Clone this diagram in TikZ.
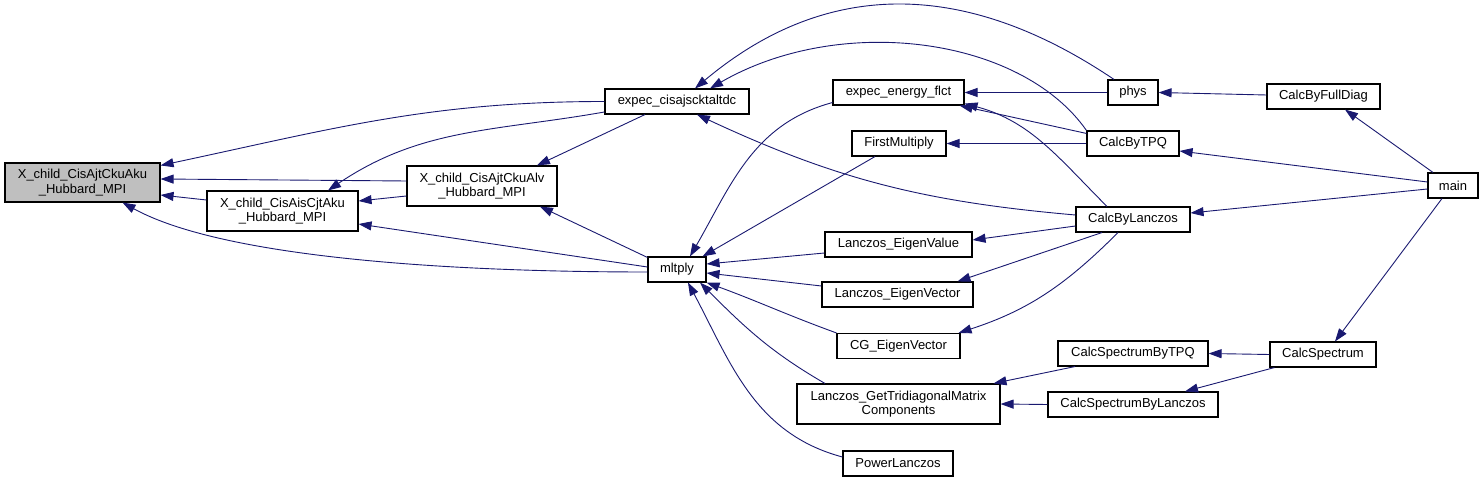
\documentclass[tikz,border=0pt]{standalone}
\usepackage{fontspec}
\setmainfont{Liberation Sans}
\usepackage{xcolor}
\usepackage{tikz}
\definecolor{edgeblue}{HTML}{191970}
\definecolor{curgray}{HTML}{BFBFBF}
\usetikzlibrary{arrows.meta,positioning}

\begin{document}
\begin{tikzpicture}[
    x=1pt, y=1pt,
    fn/.style={rectangle, draw=black, line width=1.1pt, fill=white, inner sep=0pt, minimum height=25pt, align=center, font=\fontsize{13}{14.5}\selectfont},
    cur/.style={fn, fill=curgray},
    call/.style={-{Triangle[length=13pt,width=9pt]}, draw=edgeblue, line width=0.9pt},
]
\useasboundingbox (0,0) rectangle (1484,482);

% Current function
\node (aku) [cur, minimum width=155pt, minimum height=39pt] at (82.5,299.5) {X\_child\_CisAjtCkuAku\\\_Hubbard\_MPI};

% Callers, left part
\node (aiscjt) [fn, minimum width=151pt, minimum height=40pt] at (282.5,271) {X\_child\_CisAisCjtAku\\\_Hubbard\_MPI};
\node (alv) [fn, minimum width=150pt, minimum height=40pt] at (482,296) {X\_child\_CisAjtCkuAlv\\\_Hubbard\_MPI};
\node (expec) [fn, minimum width=144pt] at (677,380.5) {expec\_cisajscktaltdc};
\node (mltply) [fn, minimum width=58pt] at (677,212.5) {mltply};

% Callers of mltply
\node (energy) [fn, minimum width=131pt] at (898.5,389.5) {expec\_energy\_flct};
\node (first) [fn, minimum width=94pt] at (899,338.5) {FirstMultiply};
\node (eigval) [fn, minimum width=147pt] at (898.5,237.5) {Lanczos\_EigenValue};
\node (eigvec) [fn, minimum width=151pt] at (897.5,187.5) {Lanczos\_EigenVector};
\node (cgvec) [fn, minimum width=123pt] at (898.5,136) {CG\_EigenVector};
\node (tridiag) [fn, minimum width=203pt, minimum height=40pt] at (898.5,78) {Lanczos\_GetTridiagonalMatrix\\Components};
\node (power) [fn, minimum width=110pt] at (898,18.5) {PowerLanczos};

% Drivers
\node (phys) [fn, minimum width=50pt] at (1133,389.5) {phys};
\node (calctpq) [fn, minimum width=92pt] at (1133,338.5) {CalcByTPQ};
\node (calclan) [fn, minimum width=114pt] at (1133,262.5) {CalcByLanczos};
\node (spectpq) [fn, minimum width=150pt] at (1133,128.5) {CalcSpectrumByTPQ};
\node (speclan) [fn, minimum width=170pt] at (1133,77.5) {CalcSpectrumByLanczos};
\node (fulldiag) [fn, minimum width=113pt] at (1323.5,385.5) {CalcByFullDiag};
\node (spec) [fn, minimum width=106pt] at (1323,127.5) {CalcSpectrum};
\node (main) [fn, minimum width=50pt] at (1453,296.5) {main};

% Arrows into the current function
\draw[call] (expec.west) to[out=180,in=12] ([yshift=-3pt]aku.north east);
\draw[call] ([yshift=5pt]alv.west) -- ([yshift=3.5pt]aku.east);
\draw[call] ([yshift=11pt]aiscjt.west) -- ([yshift=-12.5pt]aku.east);
\draw[call] ([yshift=-2.5pt]mltply.west) .. controls +(-200,0) and +(100,-55) .. ([xshift=40pt]aku.south);

\draw[call] ([yshift=-10.5pt]expec.west) to[out=190,in=34] ([xshift=45.5pt]aiscjt.north);
\draw[call] ([yshift=-10pt]alv.west) -- ([yshift=10pt]aiscjt.east);
\draw[call] ([yshift=2.5pt]mltply.west) -- ([yshift=-13pt]aiscjt.east);

\draw[call] ([xshift=-32pt]expec.south) -- ([xshift=55pt]alv.north);
\draw[call] ([yshift=-1pt]mltply.north west) -- ([xshift=58pt]alv.south);

% Arrows into expec
\draw[call] ([xshift=-19pt]phys.north) .. controls +(146:181) and +(40:170) .. ([xshift=18pt]expec.north);
\draw[call] (calctpq.north west) .. controls +(125:115) and +(30:150) .. ([xshift=33pt]expec.north);
\draw[call] ([yshift=4.5pt]calclan.west) to[out=175,in=-25] ([xshift=20pt]expec.south);

% Arrows into expec_energy_flct and FirstMultiply
\draw[call] (phys.west) -- (energy.east);
\draw[call] ([yshift=-3pt]calctpq.north west) -- ([xshift=-5pt]energy.south east);
\draw[call] ([xshift=-26pt]calclan.north) to[out=135,in=-15] ([yshift=2pt]energy.south east);
\draw[call] (calctpq.west) -- (first.east);

% Arrows into mltply
\draw[call] ([yshift=3pt]energy.south west) to[out=195,in=60] ([xshift=13pt]mltply.north);
\draw[call] ([xshift=-24pt]first.south) -- ([xshift=-4pt]mltply.north east);
\draw[call] ([yshift=-8.5pt]eigval.west) -- ([yshift=5.5pt]mltply.east);
\draw[call] ([yshift=8.5pt]eigvec.west) -- ([yshift=-3.5pt]mltply.east);
\draw[call] (cgvec.north west) to[out=160,in=-20] (mltply.south east);
\draw[call] ([xshift=-73.5pt]tridiag.north) to[out=150,in=-45] ([xshift=23pt]mltply.south);
\draw[call] ([yshift=6.5pt]power.west) to[out=165,in=-62] ([xshift=11pt]mltply.south);

% Arrows from CalcByLanczos
\draw[call] ([yshift=-6.5pt]calclan.west) -- ([yshift=4.5pt]eigval.east);
\draw[call] ([xshift=-31pt]calclan.south) -- ([xshift=60pt]eigvec.north);
\draw[call] ([xshift=-15pt]calclan.south) to[out=225,in=18] ([xshift=-2pt]cgvec.north east);

% Arrows into Lanczos_GetTridiagonalMatrixComponents
\draw[call] ([xshift=-58pt]spectpq.south) -- ([xshift=95pt]tridiag.north);
\draw[call] (speclan.west) -- (tridiag.east);

% Arrows from main and its callees
\draw[call] ([yshift=1.5pt]fulldiag.west) -- (phys.east);
\draw[call] ([xshift=-20pt]main.north) -- ([xshift=21.5pt]fulldiag.south);
\draw[call] ([yshift=3.5pt]main.west) -- ([yshift=-7.5pt]calctpq.east);
\draw[call] ([yshift=-3.5pt]main.west) -- ([yshift=6.5pt]calclan.east);
\draw[call] ([xshift=-11pt]main.south) -- ([xshift=12pt]spec.north);
\draw[call] (spec.west) -- (spectpq.east);
\draw[call] ([xshift=5pt]spec.south west) -- ([xshift=52pt]speclan.north);

\end{tikzpicture}
\end{document}
